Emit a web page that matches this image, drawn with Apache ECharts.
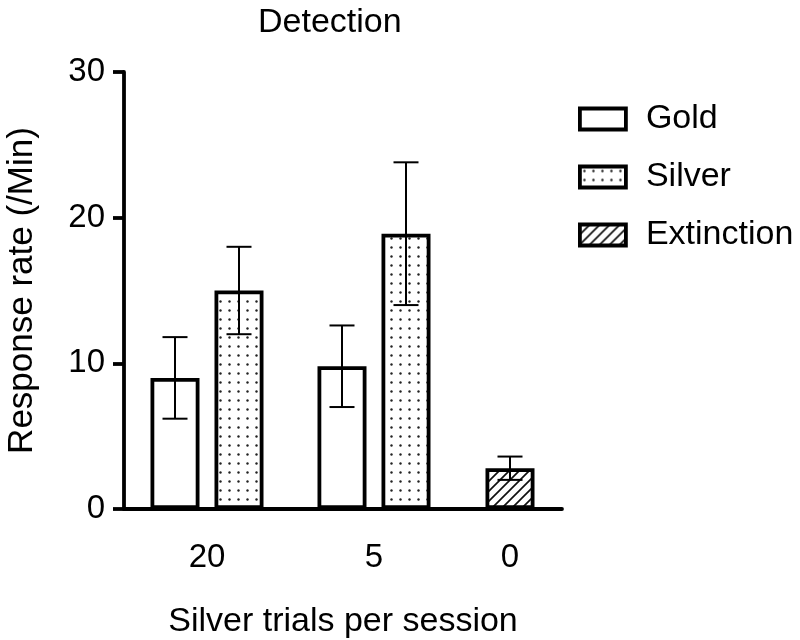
<!DOCTYPE html>
<html>
<head>
<meta charset="utf-8">
<script src="https://cdn.jsdelivr.net/npm/echarts@6/dist/echarts.min.js"></script>
<style>html,body{margin:0;padding:0;background:#fff}#c{width:800px;height:640px}</style>
</head>
<body>
<div id="c"></div>
<script>
// ---- data ----
const categories = ['20', '5', '0'];
const goldMean = [9.0, 9.8];          // categories 20, 5
const goldSem = [2.8, 2.8];
const silverMean = [15.0, 18.9];      // categories 20, 5
const silverSem = [3.0, 4.9];
const extinctionMean = [2.8];         // category 0
const extinctionSem = [0.8];
const yTicks = [0, 10, 20, 30];

// ---- patterns ----
function dotPattern() {
  const c = document.createElement('canvas');
  c.width = 9; c.height = 9;
  const g = c.getContext('2d');
  g.fillStyle = '#fff'; g.fillRect(0, 0, 9, 9);
  g.fillStyle = '#222';
  g.beginPath(); g.arc(4.5, 4.5, 1.2, 0, Math.PI * 2); g.fill();
  return c;
}
function hatchPattern() {
  const c = document.createElement('canvas');
  c.width = 10; c.height = 10;
  const g = c.getContext('2d');
  g.fillStyle = '#fff'; g.fillRect(0, 0, 10, 10);
  g.strokeStyle = '#111'; g.lineWidth = 1.7;
  g.beginPath();
  g.moveTo(-1, 11); g.lineTo(11, -1);
  g.moveTo(-6, 6); g.lineTo(6, -6);
  g.moveTo(4, 16); g.lineTo(16, 4);
  g.stroke();
  return c;
}

const FONT = 'Liberation Sans, Arial, Helvetica, sans-serif';
const BW = 49;             // bar width (px)
const GAP = 15;            // gap between bars in a group (px)
const BORDER = 3.8;

const styles = {
  Gold: { color: '#fff', borderColor: '#000', borderWidth: BORDER },
  Silver: { color: { image: dotPattern(), repeat: 'repeat' }, borderColor: '#000', borderWidth: BORDER },
  Extinction: { color: { image: hatchPattern(), repeat: 'repeat' }, borderColor: '#000', borderWidth: BORDER }
};

const TOP = 72, BOTTOM = 640 - 509;
const grids = [
  { left: 124, width: 438, top: TOP, bottom: BOTTOM, outerBoundsMode: 'none', containLabel: false },  // frame grid
  { left: 124, width: 166, top: TOP, bottom: BOTTOM, outerBoundsMode: 'none', containLabel: false },  // '20'
  { left: 290, width: 168, top: TOP, bottom: BOTTOM, outerBoundsMode: 'none', containLabel: false },  // '5'
  { left: 458, width: 104, top: TOP, bottom: BOTTOM, outerBoundsMode: 'none', containLabel: false }   // '0'
];

const xAxes = [
  {
    gridIndex: 0, type: 'category', data: [''],
    axisLine: { show: false }, axisTick: { show: false }, axisLabel: { show: false },
    name: 'Silver trials per session', nameLocation: 'middle', nameGap: 96,
    nameTextStyle: { fontSize: 34, color: '#000', fontFamily: FONT }
  }
];
for (let i = 0; i < 3; i++) {
  xAxes.push({
    gridIndex: i + 1, type: 'category', data: [categories[i]],
    axisLine: { show: true, lineStyle: { color: '#000', width: BORDER } },
    axisTick: { show: false },
    axisLabel: { fontSize: 33, color: '#000', fontFamily: FONT, margin: 32 }
  });
}

const yAxes = [
  {
    gridIndex: 0, type: 'value', min: yTicks[0], max: yTicks[yTicks.length - 1], interval: 10,
    axisLine: { show: true, lineStyle: { color: '#000', width: BORDER } },
    axisTick: { show: true, length: 11, lineStyle: { color: '#000', width: BORDER } },
    axisLabel: { fontSize: 33, color: '#000', fontFamily: FONT, margin: 19 },
    splitLine: { show: false },
    name: 'Response rate (/Min)', nameLocation: 'middle', nameGap: 84, nameRotate: 90,
    nameTextStyle: { fontSize: 35, color: '#000', fontFamily: FONT }
  }
];
for (let i = 1; i <= 3; i++) {
  yAxes.push({ gridIndex: i, type: 'value', min: 0, max: 30, interval: 10, show: false, splitLine: { show: false } });
}

function barSeries(name, value, gi) {
  return {
    name: name, type: 'bar', xAxisIndex: gi, yAxisIndex: gi,
    data: [value], barWidth: BW, barGap: (GAP / BW * 100) + '%',
    itemStyle: styles[name], z: 2, silent: true
  };
}
function errSeries(mean, sem, gi, offset) {
  return {
    type: 'custom', xAxisIndex: gi, yAxisIndex: gi, z: 5, silent: true,
    data: [[0, mean, sem]],
    renderItem: function (params, api) {
      const m = api.value(1), s = api.value(2);
      const top = api.coord([0, m + s]);
      const bot = api.coord([0, m - s]);
      const x = top[0] + offset;
      const half = 12.5;
      const st = { stroke: '#000', lineWidth: 2 };
      return {
        type: 'group', children: [
          { type: 'line', shape: { x1: x, y1: top[1], x2: x, y2: bot[1] }, style: st },
          { type: 'line', shape: { x1: x - half, y1: top[1], x2: x + half, y2: top[1] }, style: st },
          { type: 'line', shape: { x1: x - half, y1: bot[1], x2: x + half, y2: bot[1] }, style: st }
        ]
      };
    }
  };
}

const pitch = (BW + GAP) / 2;
const series = [];
for (let i = 0; i < 2; i++) {
  series.push(barSeries('Gold', goldMean[i], i + 1));
  series.push(barSeries('Silver', silverMean[i], i + 1));
  series.push(errSeries(goldMean[i], goldSem[i], i + 1, -pitch));
  series.push(errSeries(silverMean[i], silverSem[i], i + 1, pitch));
}
series.push(barSeries('Extinction', extinctionMean[0], 3));
series.push(errSeries(extinctionMean[0], extinctionSem[0], 3, 0));

const chart = echarts.init(document.getElementById('c'), null, { renderer: 'canvas' });
chart.setOption({
  backgroundColor: '#fff',
  animation: false,
  title: {
    text: 'Detection', left: 253, top: 1,
    textStyle: { fontSize: 34, fontWeight: 'normal', color: '#000', fontFamily: FONT }
  },
  legend: {
    orient: 'vertical', left: 573, top: 97, itemGap: 24,
    itemWidth: 46, itemHeight: 21, icon: 'rect',
    data: ['Gold', 'Silver', 'Extinction'].map(n => ({ name: n, itemStyle: styles[n] })),
    textStyle: { fontSize: 34, color: '#000', fontFamily: FONT, padding: [0, 0, 0, 15] },
    selectedMode: false
  },
  grid: grids,
  xAxis: xAxes,
  yAxis: yAxes,
  series: series
});
</script>
</body>
</html>
